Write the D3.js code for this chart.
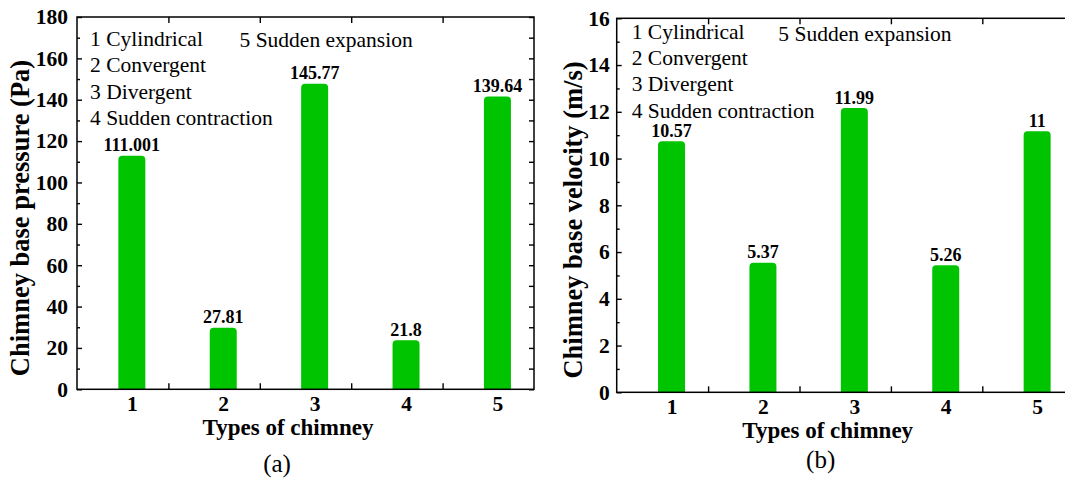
<!DOCTYPE html>
<html>
<head>
<meta charset="utf-8">
<script src="https://cdn.jsdelivr.net/npm/d3@7"></script>
<style>
  html, body { margin: 0; padding: 0; background: #fff; }
  svg { display: block; }
  text { font-family: "Liberation Serif", "Times New Roman", serif; fill: #000; }
</style>
</head>
<body>
<svg id="chart" width="1065" height="479"></svg>
<script>
// ---------- data ----------
const categories = [1, 2, 3, 4, 5];
const categoryLabels = ["1", "2", "3", "4", "5"];
const pressureValues = [111.001, 27.81, 145.77, 21.8, 139.64];
const velocityValues = [10.57, 5.37, 11.99, 5.26, 11];
const pressureTicks = [0, 20, 40, 60, 80, 100, 120, 140, 160, 180];
const velocityTicks = [0, 2, 4, 6, 8, 10, 12, 14, 16];
const legendLeftColumn = ["1 Cylindrical", "2 Convergent", "3 Divergent", "4 Sudden contraction"];
const legendRightColumn = ["5 Sudden expansion"];
const xTitle = "Types of chimney";
const pressureTitle = "Chimney base pressure (Pa)";
const velocityTitle = "Chimney base velocity (m/s)";
const panelLetters = ["(a)", "(b)"];

// ---------- layout / style ----------
const GREEN = "#00c400";
const svg = d3.select("#chart");

const panels = [
  { x0: 77, x1: 534, y0: 17, y1: 389.3, values: pressureValues, ticks: pressureTicks,
    max: 180, minorStep: 10, title: pressureTitle, letter: panelLetters[0],
    titleX: 28.5, titleY: 218, labelPad: 9, legendDx: 13, legendY0: 45.7, legendDy: 26.5,
    legend5Dx: 162.5, legend5Y: 46.7, letterDx: 200, letterY: 471.5 },
  { x0: 616.7, x1: 1073.7, y0: 18.3, y1: 392.3, values: velocityValues, ticks: velocityTicks,
    max: 16, minorStep: 1, title: velocityTitle, letter: panelLetters[1],
    titleX: 582, titleY: 220, labelPad: 7, legendDx: 15, legendY0: 39, legendDy: 26.2,
    legend5Dx: 161.6, legend5Y: 41, letterDx: 204, letterY: 468 }
];

panels.forEach((p, pi) => {
  const g = svg.append("g");
  const x = d3.scaleLinear().domain([0.4, 5.4]).range([p.x0, p.x1]);
  const y = d3.scaleLinear().domain([0, p.max]).range([p.y1, p.y0]);

  const minor = d3.range(p.minorStep, p.max, p.minorStep * 2);
  const boundaries = [1.4, 2.4, 3.4, 4.4];

  // clip for bars
  const clipId = "clip" + pi;
  svg.append("clipPath").attr("id", clipId)
    .append("rect").attr("x", p.x0).attr("y", p.y0)
    .attr("width", p.x1 - p.x0).attr("height", p.y1 - p.y0);

  // bars (rounded corners via round-joined stroke)
  const barW = 19;
  g.append("g").attr("clip-path", `url(#${clipId})`)
    .selectAll("rect").data(p.values).join("rect")
    .attr("x", (d, i) => x(categories[i]) - barW / 2)
    .attr("y", d => y(d))
    .attr("width", barW)
    .attr("height", d => y(0) - y(d) + 10)
    .attr("fill", GREEN)
    .attr("stroke", GREEN)
    .attr("stroke-width", 8)
    .attr("stroke-linejoin", "round");

  // value labels
  g.append("g").selectAll("text").data(p.values).join("text")
    .attr("x", (d, i) => x(categories[i]))
    .attr("y", d => y(d) - 8.5)
    .attr("text-anchor", "middle")
    .style("font-size", "18px").style("font-weight", "bold")
    .text(d => String(d));

  const styleAxis = sel => {
    sel.attr("font-family", null).attr("font-size", null);
    sel.select(".domain").remove();
    sel.selectAll("line").attr("stroke", "#000").attr("stroke-width", 1.4);
  };

  // left axis major with labels
  g.append("g").attr("transform", `translate(${p.x0},0)`)
    .call(d3.axisLeft(y).tickValues(p.ticks).tickSize(-5).tickPadding(p.labelPad).tickFormat(d3.format("d")))
    .call(styleAxis)
    .call(s => s.selectAll("text").style("font-size", "21.5px").style("font-weight", "bold"));
  // left axis minor
  g.append("g").attr("transform", `translate(${p.x0},0)`)
    .call(d3.axisLeft(y).tickValues(minor).tickSize(-3).tickFormat(""))
    .call(styleAxis);
  // right axis ticks
  g.append("g").attr("transform", `translate(${p.x1},0)`)
    .call(d3.axisRight(y).tickValues(p.ticks.concat(minor)).tickSize(-5).tickFormat(""))
    .call(styleAxis);
  // bottom boundary ticks
  g.append("g").attr("transform", `translate(0,${p.y1})`)
    .call(d3.axisBottom(x).tickValues(boundaries).tickSize(-6).tickFormat(""))
    .call(styleAxis);
  // top boundary ticks
  g.append("g").attr("transform", `translate(0,${p.y0})`)
    .call(d3.axisTop(x).tickValues(boundaries).tickSize(-6).tickFormat(""))
    .call(styleAxis);
  // category labels
  g.append("g").attr("transform", `translate(0,${p.y1})`)
    .call(d3.axisBottom(x).tickValues(categories).tickSize(0).tickPadding(6)
      .tickFormat((d, i) => categoryLabels[i]))
    .call(styleAxis)
    .call(s => s.selectAll("text").style("font-size", "21.5px").style("font-weight", "bold"));

  // frame
  g.append("rect")
    .attr("x", p.x0).attr("y", p.y0)
    .attr("width", p.x1 - p.x0).attr("height", p.y1 - p.y0)
    .attr("fill", "none").attr("stroke", "#000").attr("stroke-width", 1.5);

  // legend text
  g.append("g").selectAll("text").data(legendLeftColumn).join("text")
    .attr("x", p.x0 + p.legendDx)
    .attr("y", (d, i) => p.legendY0 + i * p.legendDy)
    .style("font-size", "21.5px")
    .text(d => d);
  g.append("g").selectAll("text").data(legendRightColumn).join("text")
    .attr("x", p.x0 + p.legend5Dx)
    .attr("y", p.legend5Y)
    .style("font-size", "21.5px")
    .text(d => d);

  // y title
  g.append("text")
    .attr("transform", `translate(${p.titleX},${p.titleY}) rotate(-90)`)
    .attr("text-anchor", "middle")
    .style("font-size", "26.5px").style("font-weight", "bold")
    .text(p.title);

  // x title
  g.append("text")
    .attr("x", p.x0 + 211).attr("y", p.y1 + 46)
    .attr("text-anchor", "middle")
    .style("font-size", "23px").style("font-weight", "bold")
    .text(xTitle);

  // panel letter
  g.append("text")
    .attr("x", p.x0 + p.letterDx).attr("y", p.letterY)
    .attr("text-anchor", "middle")
    .style("font-size", "25px")
    .text(p.letter);
});
</script>
</body>
</html>
